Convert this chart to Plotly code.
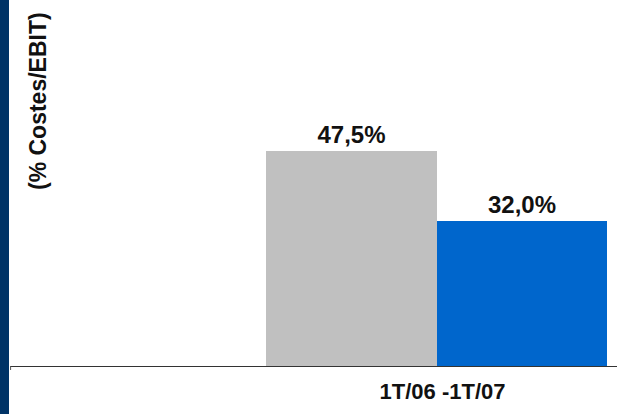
import plotly.graph_objects as go

# ── 데이터 ──
categories = ["1T/06 -1T/07"]
series_names = ["1T/06", "1T/07"]
values_06 = [47.5]
values_07 = [32.0]
labels_06 = ["47,5%"]
labels_07 = ["32,0%"]

COLOR_GRAY = "#C0C0C0"
COLOR_BLUE = "#0066CC"
COLOR_NAVY = "#003366"
FONT = "Arial, Liberation Sans, sans-serif"
TEXT_FONT = dict(family=FONT, size=24, color="#111111", weight="bold")

fig = go.Figure()
fig.add_trace(go.Bar(
    x=categories, y=values_06, name=series_names[0],
    marker_color=COLOR_GRAY, marker_line_width=0,
    text=labels_06, textposition="outside", cliponaxis=False,
    textfont=TEXT_FONT,
))
fig.add_trace(go.Bar(
    x=categories, y=values_07, name=series_names[1],
    marker_color=COLOR_BLUE, marker_line_width=0,
    text=labels_07, textposition="outside", cliponaxis=False,
    textfont=TEXT_FONT,
))

# 왼쪽 네이비 띠 + 축 시작 눈금
fig.add_shape(type="rect", xref="paper", yref="paper",
              x0=-10 / 607, x1=-1 / 607, y0=-48 / 362, y1=1 + 4 / 362,
              fillcolor=COLOR_NAVY, line_width=0, layer="above")
fig.add_shape(type="line", xref="paper", yref="paper",
              x0=0.001, x1=0.001, y0=0, y1=-4 / 362,
              line=dict(color="#555555", width=1))

fig.add_annotation(
    text="<b>(% Costes/EBIT)</b>", textangle=-90,
    xref="paper", yref="paper", x=28 / 607, y=1 - 6 / 362,
    xanchor="center", yanchor="top", showarrow=False,
    font=dict(family=FONT, size=23, color="#111111"),
)

fig.update_layout(
    barmode="group",
    bargap=0,
    bargroupgap=0,
    showlegend=False,
    width=617,
    height=414,
    paper_bgcolor="white",
    plot_bgcolor="white",
    margin=dict(l=10, r=0, t=4, b=48),
    font=dict(family=FONT),
    xaxis=dict(
        range=[-1.2507, 0.5293],
        showline=True, linecolor="#333333", linewidth=1,
        showgrid=False, ticks="",
        tickfont=dict(family=FONT, size=22, color="#111111", weight="bold"),
        ticklabelstandoff=6,
        ticklabelshift=6,
    ),
    yaxis=dict(range=[0, 80], visible=False, showgrid=False),
)

# 페이지 기본 여백 제거
fig.write_html(
    "out.html",
    config={"displayModeBar": False},
    post_script="document.body.style.margin='0';",
)
